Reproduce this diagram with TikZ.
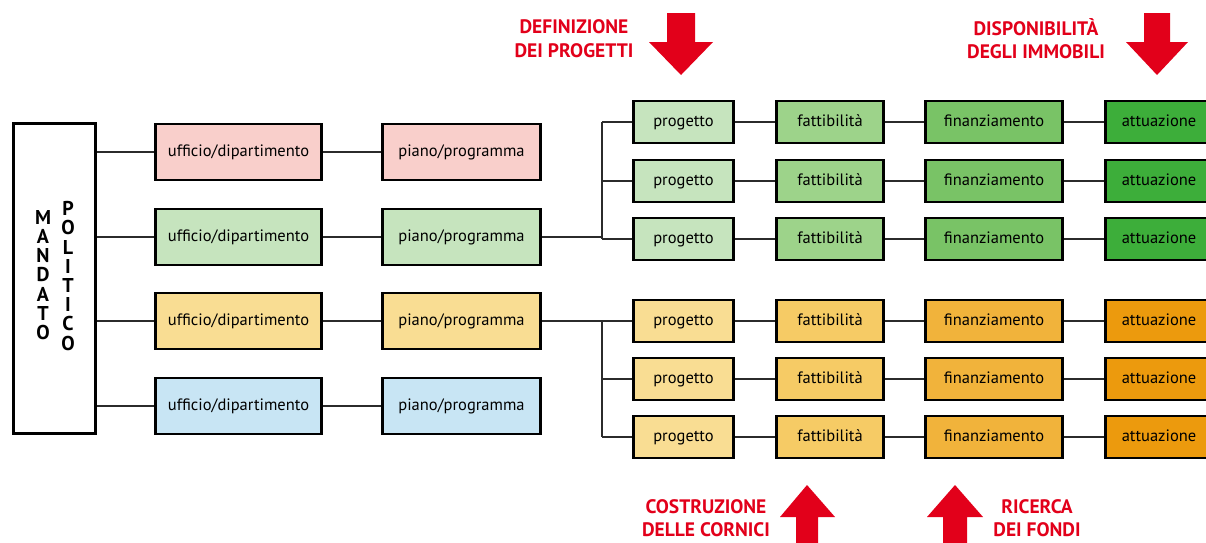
\documentclass[tikz,border=0pt]{standalone}
\usepackage{fontspec}
\setmainfont{PT Sans}
\definecolor{pinkL}{HTML}{F9CFCB}
\definecolor{greenL}{HTML}{C6E4BE}
\definecolor{yellowL}{HTML}{F9DD93}
\definecolor{blueL}{HTML}{C8E5F4}
\definecolor{greenA}{HTML}{9DD38A}
\definecolor{greenB}{HTML}{79C366}
\definecolor{greenC}{HTML}{3DAE3A}
\definecolor{orangeA}{HTML}{F6CB65}
\definecolor{orangeB}{HTML}{F1B33B}
\definecolor{orangeC}{HTML}{EC9A0D}
\definecolor{alert}{HTML}{E2001A}
\definecolor{wire}{HTML}{2B2B2B}
\tikzset{
  box/.style={draw=black, line width=2.6pt, inner sep=0pt, text height=0.95em, text depth=0pt,
    font=\fontsize{16.5}{18}\selectfont},
  bigbox/.style={box, minimum height=56pt},
  smallbox/.style={box, minimum height=42pt},
  uff/.style={bigbox, minimum width=166pt},
  pia/.style={bigbox, minimum width=158pt},
  pro/.style={smallbox, minimum width=100pt},
  fat/.style={smallbox, minimum width=107pt},
  fin/.style={smallbox, minimum width=137pt},
  att/.style={smallbox, minimum width=107pt},
  link/.style={draw=wire, line width=1.3pt},
  redtitle/.style={text=alert, align=center, font=\bfseries\fontsize{19.5}{23.5}\selectfont},
  redarrow/.style={fill=alert, draw=none},
  vletters/.style={align=center, font=\bfseries\fontsize{20}{19.2}\selectfont}
}
\begin{document}
\begin{tikzpicture}[x=1pt,y=-1pt]
\useasboundingbox (0,0) rectangle (1206,542);
\clip (0,0) rectangle (1206,542);

% political mandate column
\node[draw=black, line width=3pt, minimum width=82pt, minimum height=310pt, inner sep=0pt] (mandato) at (54.5,278.5) {};
\node[vletters] (mand) at (43,275) {M\\A\\N\\D\\A\\T\\O};
\node[vletters] (poli) at (68,276) {P\\O\\L\\I\\T\\I\\C\\O};

% offices and plans
\foreach \i/\y/\c in {1/152/pinkL, 2/237/greenL, 3/321/yellowL, 4/406/blueL} {
  \node[uff, fill=\c] (uff\i) at (238.5,\y) {ufficio/dipartimento};
  \node[pia, fill=\c] (pia\i) at (461.5,\y) {piano/programma};
  \draw[link] (mandato.east |- uff\i.west) -- (uff\i.west);
  \draw[link] (uff\i.east) -- (pia\i.west);
}

% project chains
\foreach \i/\y/\ca/\cb/\cc/\cd in {
  1/122/greenL/greenA/greenB/greenC,
  2/181/greenL/greenA/greenB/greenC,
  3/239/greenL/greenA/greenB/greenC,
  4/321/yellowL/orangeA/orangeB/orangeC,
  5/379/yellowL/orangeA/orangeB/orangeC,
  6/437/yellowL/orangeA/orangeB/orangeC} {
  \node[pro, fill=\ca] (pro\i) at (683.5,\y) {progetto};
  \node[fat, fill=\cb] (fat\i) at (830,\y) {fattibilità};
  \node[fin, fill=\cc] (fin\i) at (994,\y) {finanziamento};
  \node[att, fill=\cd] (att\i) at (1159,\y) {attuazione};
  \draw[link] (pro\i.east) -- (fat\i.west);
  \draw[link] (fat\i.east) -- (fin\i.west);
  \draw[link] (fin\i.east) -- (att\i.west);
}

% branching from plans to projects
\coordinate (gb) at (602,237);
\coordinate (ob) at (602,321);
\draw[link] (pia2.east) -- (gb);
\draw[link] (gb |- pro1.west) -- (gb |- pro3.west);
\foreach \i in {1,2,3} \draw[link] (gb |- pro\i.west) -- (pro\i.west);
\draw[link] (pia3.east) -- (ob);
\draw[link] (ob |- pro4.west) -- (ob |- pro6.west);
\foreach \i in {4,5,6} \draw[link] (ob |- pro\i.west) -- (pro\i.west);

% phase labels and arrows
\node[redtitle] (t1) at (574,38.5) {DEFINIZIONE\\DEI PROGETTI};
\node[redtitle] (t2) at (1036,38.5) {DISPONIBILITÀ\\DEGLI IMMOBILI};
\node[redtitle] (t3) at (706,518) {COSTRUZIONE\\DELLE CORNICI};
\node[redtitle] (t4) at (1037,518) {RICERCA\\DEI FONDI};

\fill[redarrow] (667,13) -- (695,13) -- (695,42) -- (713,42) -- (681,75) -- (649,42) -- (667,42) -- cycle;
\fill[redarrow] (1144,13) -- (1170,13) -- (1170,42) -- (1188,42) -- (1157,75) -- (1126,42) -- (1144,42) -- cycle;
\fill[redarrow] (796,550) -- (818,550) -- (818,517) -- (835,517) -- (807,485) -- (780,517) -- (796,517) -- cycle;
\fill[redarrow] (943,550) -- (967,550) -- (967,517) -- (983,517) -- (955,485) -- (927,517) -- (943,517) -- cycle;
\end{tikzpicture}
\end{document}
